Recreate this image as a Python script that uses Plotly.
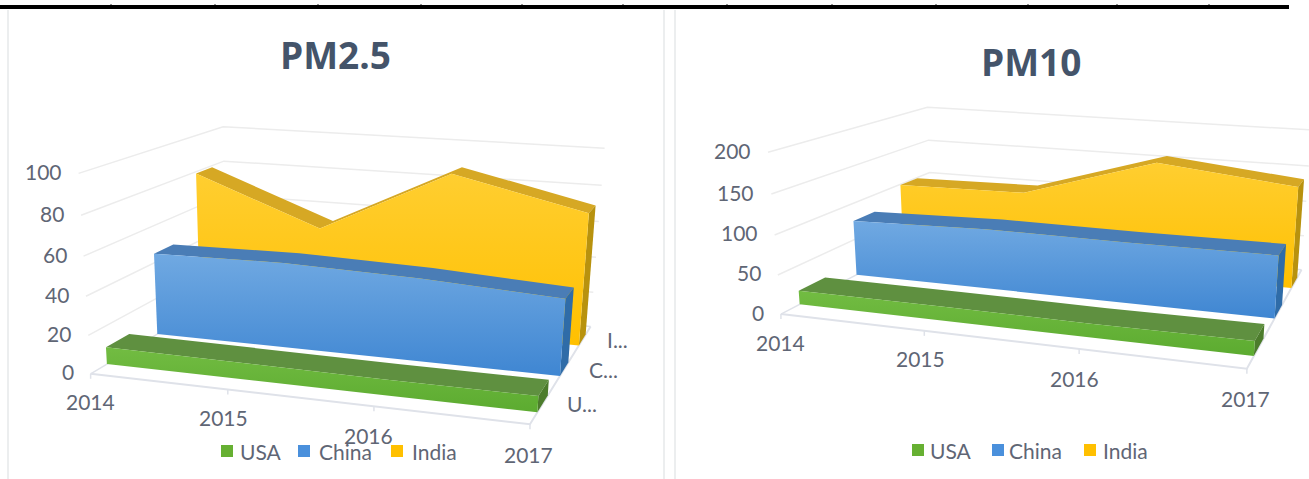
import numpy as np
import plotly.graph_objects as go

# ---- data ----
years = ["2014", "2015", "2016", "2017"]
series_names = ["USA", "China", "India"]
depth_labels = ["U...", "C...", "I..."]

pm25_usa = [9, 8.5, 8, 8]
pm25_china = [45, 46, 44, 40]
pm25_india = [79, 53, 88, 72]
pm25_ticks = [0, 20, 40, 60, 80, 100]

pm10_usa = [18, 18, 17, 18]
pm10_china = [76, 81, 80, 81]
pm10_india = [99, 102, 158, 139]
pm10_ticks = [0, 50, 100, 150, 200]

# ---- styles ----
FONT = "Lato"
TEXT = "#5F6675"
TITLE = "#44546A"
GRID = "#ECECEC"
FLOOR = "#DFE2E9"
FRONT_GRAD = [("#72BC42", "#5CAB30"), ("#70A9E2", "#3F86D2"), ("#FFCE30", "#FFC000")]
TOP_FACE = ["#5F9040", "#4A7DB6", "#D6A824"]
SIDE_FACE = ["#4C7C2C", "#2F6CA8", "#B8920E"]
LEGEND_COL = ["#66B032", "#4A90DC", "#FFC000"]

# Depth span of each ribbon along the floor (0 = front, 1 = back).
RIBBON_FRONT = [0.10, 0.44, 0.77]
RIBBON_BACK = [0.25, 0.58, 0.90]

# Small shifts of the year labels relative to their floor ticks.
YEAR_SHIFT = [(0, -1), (-4, -1), (-5, 0), (-1, 1)]

# Screen anchors of the plot box corners: (x-frac, depth-frac, height-frac) -> pixel.
BOX_25 = {
    (0, 0, 0): (90, 373), (0, 0, 1): (79, 171),
    (0, 1, 0): (227, 294), (0, 1, 1): (223, 128),
    (1, 1, 0): (590, 326), (1, 1, 1): (605, 146),
    (1, 0, 0): (531, 424), (1, 0, 1): (543, 209),
}
BOX_10 = {
    (0, 0, 0): (780, 312), (0, 0, 1): (768, 150),
    (0, 1, 0): (932, 238), (0, 1, 1): (928, 108),
    (1, 1, 0): (1302, 270), (1, 1, 1): (1310, 126),
    (1, 0, 0): (1247, 367), (1, 0, 1): (1258, 195),
}

# Column marks sticking out of the heavy rule at the top.
RULE_MARKS = [111, 215, 318, 421, 522, 623, 727, 832, 936, 1028, 1117, 1209]


def camera(box):
    """Solve the 3x4 projective camera taking box coordinates to the screen."""
    rows = []
    for (u, v, w), (x, y) in box.items():
        p = [u, v, w, 1]
        rows.append(p + [0, 0, 0, 0] + [-x * c for c in p])
        rows.append([0, 0, 0, 0] + p + [-y * c for c in p])
    return np.linalg.svd(np.array(rows, float))[2][-1].reshape(3, 4)


def project(cam, u, v, w):
    h = cam @ np.array([u, v, w, 1.0])
    return float(h[0] / h[2]), float(h[1] / h[2])


fig = go.Figure()


def poly(points, **style):
    xs, ys = zip(*points)
    fig.add_trace(go.Scatter(x=list(xs) + [xs[0]], y=list(ys) + [ys[0]], mode="lines",
                             fill="toself", line=dict(width=0), hoverinfo="skip",
                             showlegend=False, **style))


def path(points, color, width):
    xs, ys = zip(*points)
    fig.add_trace(go.Scatter(x=xs, y=ys, mode="lines", line=dict(color=color, width=width),
                             hoverinfo="skip", showlegend=False))


def label(x, y, text, size=21, anchor="center", color=TEXT, bold=False):
    fig.add_annotation(x=x, y=y, text=f"<b>{text}</b>" if bold else text, showarrow=False,
                       xanchor=anchor, yanchor="middle",
                       font=dict(family=FONT if not bold else "Open Sans", size=size, color=color))


def panel(box, ticks, values, title, title_pos, legend_pos, show_depth):
    cam = camera(box)
    top = ticks[-1]
    n = len(years)
    us = [i / (n - 1) for i in range(n)]

    # Side wall and back wall gridlines
    for t in ticks:
        w = t / top
        path([project(cam, 0, 0, w), project(cam, 0, 1, w), project(cam, 1, 1, w)],
             FLOOR if t == 0 else GRID, 1.5)

    # Floor outline with its category ticks
    path([project(cam, 0, 0, 0), project(cam, 1, 0, 0), project(cam, 1, 1, 0)], FLOOR, 2)
    for u in us:
        x, y = project(cam, u, 0, 0)
        path([(x, y), (x, y + 5)], FLOOR, 1.5)

    # Ribbons, back to front
    for s in reversed(range(len(values))):
        vf, vb = RIBBON_FRONT[s], RIBBON_BACK[s]
        heights = [val / top for val in values[s]]
        front_top = [project(cam, u, vf, h) for u, h in zip(us, heights)]
        back_top = [project(cam, u, vb, h) for u, h in zip(us, heights)]
        front_base = [project(cam, u, vf, 0) for u in us]
        back_end = project(cam, 1, vb, 0)

        poly(front_top + back_top[::-1], fillcolor=TOP_FACE[s])
        poly([front_top[-1], back_top[-1], back_end, front_base[-1]], fillcolor=SIDE_FACE[s])
        outline = front_top + front_base[::-1]
        ys = [p[1] for p in outline]
        c_top, c_bottom = FRONT_GRAD[s]
        poly(outline, fillgradient=dict(type="vertical", start=min(ys), stop=max(ys),
                                        colorscale=[[0, c_top], [1, c_bottom]]))

    # Axis text
    for t in ticks:
        x, y = project(cam, 0, 0, t / top)
        label(x - 15, y - 2, str(t), anchor="right")
    for u, yr, (dx, dy) in zip(us, years, YEAR_SHIFT):
        x, y = project(cam, u, 0, 0)
        label(x + dx, y + 29 + dy, yr)
    if show_depth:
        for s, name in enumerate(depth_labels):
            x, y = project(cam, 1, (s + 0.5) / 3, 0)
            label(x + 23, y - 1, name, anchor="left")

    label(title_pos[0], title_pos[1], title, size=37, color=TITLE, bold=True)

    # Legend row
    for s, name in enumerate(series_names):
        sq_x, text_x = legend_pos[s]
        y = legend_pos[3]
        fig.add_shape(type="rect", x0=sq_x, x1=sq_x + 12, y0=y - 6, y1=y + 6,
                      fillcolor=LEGEND_COL[s], line_width=0, layer="above")
        label(text_x, y, name, anchor="left")


panel(BOX_25, pm25_ticks, [pm25_usa, pm25_china, pm25_india], "PM2.5", (335, 54),
      [(221, 238), (298, 317), (391, 410), 451], True)
panel(BOX_10, pm10_ticks, [pm10_usa, pm10_china, pm10_india], "PM10", (1031, 61),
      [(912, 928), (992, 1007), (1084, 1101), 450], False)

# Frame rules around the two panels
fig.add_shape(type="rect", x0=0, x1=1289, y0=5, y1=9, fillcolor="#000000", line_width=0)
for x in RULE_MARKS:
    fig.add_shape(type="line", x0=x, x1=x, y0=4, y1=5, line=dict(color="#333333", width=1))
for x in (8, 664, 675):
    fig.add_shape(type="line", x0=x, x1=x, y0=10, y1=479, line=dict(color="#E6E8EA", width=1.5))

fig.update_layout(
    width=1309, height=479, margin=dict(l=0, r=0, t=0, b=0),
    paper_bgcolor="white", plot_bgcolor="white", showlegend=False,
    xaxis=dict(range=[0, 1309], visible=False, fixedrange=True),
    yaxis=dict(range=[479, 0], visible=False, fixedrange=True),
)
fig.write_html("out.html", config={"displayModeBar": False})
